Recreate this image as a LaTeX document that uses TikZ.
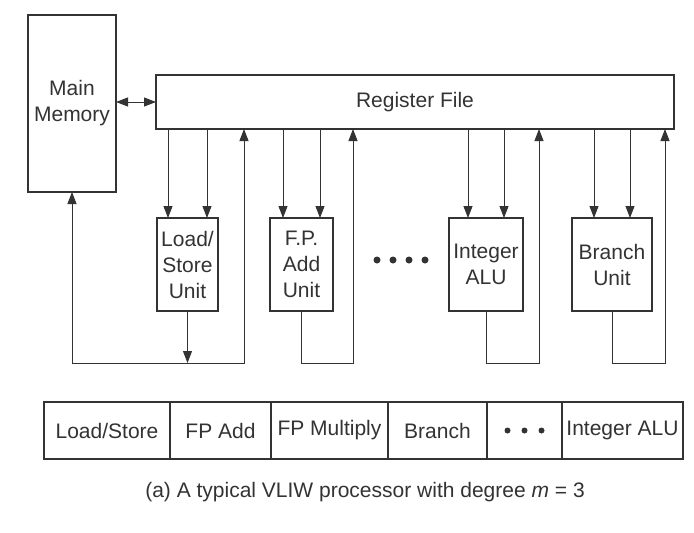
\documentclass[tikz,border=0pt]{standalone}
\usepackage{fontspec}
\setmainfont{Liberation Sans}
\usetikzlibrary{arrows.meta,calc}
\definecolor{ink}{gray}{0.2}
\begin{document}
\begin{tikzpicture}[x=1pt,y=-1pt]
	\tikzset{blok/.style={draw=ink,line width=1.2pt,inner sep=0pt,outer sep=0pt,align=center,text=ink,font=\fontsize{21}{26}\selectfont},
		unit/.style={blok,minimum height=93pt},
		cel/.style={blok,minimum height=57pt,anchor=west},
		vtip/.tip={Triangle[length=12pt,width=9pt]},
		arr/.style={draw=ink,line width=0.9pt,-vtip},
		darr/.style={arr,vtip-vtip}}
	\useasboundingbox[fill=white] (0,0) rectangle (694,533);
	\node[blok,minimum width=88pt,minimum height=177pt] (mem) at (72,103.5) {Main\\Memory};
	\node[blok,minimum width=518pt,minimum height=54pt] (rf) at (415,102) {Register File};
	\node[unit,minimum width=61pt] (ls) at (187.5,264.5) {Load/\\Store\\Unit};
	\node[unit,minimum width=63pt] (fpa) at (301.5,264.5) {F.P.\\Add\\Unit};
	\node[unit,minimum width=74pt] (ialu) at (486,264.5) {Integer\\ALU};
	\node[unit,minimum width=80pt] (bru) at (612,264.5) {Branch\\Unit};
	\draw[darr] (mem.east |- rf.west) -- (rf.west);
	% operands from the register file
	\foreach \u/\d in {ls/11,fpa/13,ialu/19,bru/22}{
		\coordinate (\u-a) at ($(\u.north west)+(\d,0)$);
		\coordinate (\u-b) at ($(\u.north east)+(-\d,0)$);
		\draw[arr] (rf.south -| \u-a) -- (\u-a);
		\draw[arr] (rf.south -| \u-b) -- (\u-b);
	}
	% results back
	\coordinate (lsr) at (244,363);
	\coordinate (fpr) at (353,363);
	\coordinate (ialur) at (539,363);
	\coordinate (brur) at (665,363);
	\draw[arr] (ls.south) -- (ls.south |- lsr);
	\draw[darr] (mem.south) |- (lsr) -- (lsr |- rf.south);
	\draw[arr] (fpa.south) |- (fpr) -- (fpr |- rf.south);
	\draw[arr] (ialu.south) |- (ialur) -- (ialur |- rf.south);
	\draw[arr] (bru.south) |- (brur) -- (brur |- rf.south);
	\foreach \x in {377,393,409,425} \fill[ink] (\x,260) circle (3.5);
	% instruction word
	\node[cel,minimum width=126pt] (t1) at (44,430.5) {Load/Store};
	\node[cel,minimum width=101pt] (t2) at (t1.east) {FP Add};
	\node[cel,minimum width=117pt] (t3) at (t2.east) {\raisebox{3pt}{FP Multiply}};
	\node[cel,minimum width=99pt] (t4) at (t3.east) {Branch};
	\node[cel,minimum width=75pt] (t5) at (t4.east) {};
	\node[cel,minimum width=121pt] (t6) at (t5.east) {Integer ALU};
	\foreach \x in {-17,0,17} \fill[ink] ($(t5.center)+(\x,0)$) circle (3);
	\node[text=ink,font=\fontsize{21}{24}\selectfont] (cap) at (365,492) {(a) A typical VLIW processor with degree \textit{m} = 3};
\end{tikzpicture}
\end{document}
